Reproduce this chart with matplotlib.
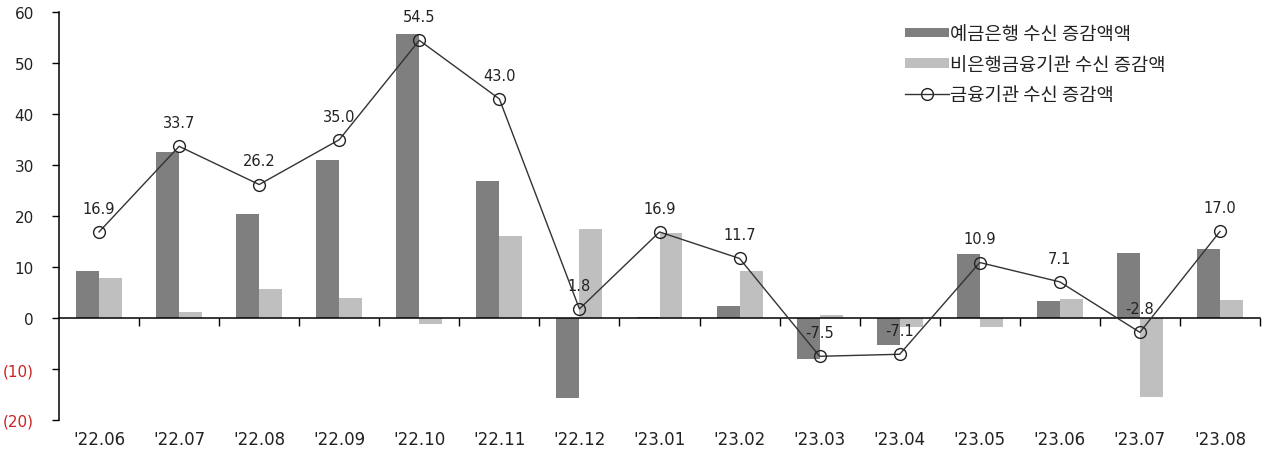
import numpy as np
import matplotlib
matplotlib.use("Agg")
import matplotlib.pyplot as plt
from matplotlib import transforms

# Monthly changes in deposits (trillion won)
months = ["'22.06", "'22.07", "'22.08", "'22.09", "'22.10", "'22.11", "'22.12",
          "'23.01", "'23.02", "'23.03", "'23.04", "'23.05", "'23.06", "'23.07", "'23.08"]
bank = [9.2, 32.5, 20.5, 31.1, 55.7, 26.9, -15.6, 0.3, 2.3, -8.1, -5.2, 12.6, 3.3, 12.7, 13.5]
nonbank = [7.8, 1.2, 5.8, 3.9, -1.2, 16.1, 17.4, 16.7, 9.3, 0.7, -1.8, -1.7, 3.8, -15.5, 3.5]
total = [16.9, 33.7, 26.2, 35.0, 54.5, 43.0, 1.8, 16.9, 11.7, -7.5, -7.1, 10.9, 7.1, -2.8, 17.0]

yticks = [-20, -10, 0, 10, 20, 30, 40, 50, 60]
ytick_labels = ["(20)", "(10)", "0", "10", "20", "30", "40", "50", "60"]

label_bank = "예금은행 수신 증감액액"
label_nonbank = "비은행금융기관 수신 증감액"
label_total = "금융기관 수신 증감액"

W, H = 1267, 460
fig = plt.figure(figsize=(W / 100, H / 100), dpi=100)
ax = fig.add_axes([59 / W, 39 / H, 1201 / W, 407.7 / H])

x = np.arange(len(months))
bw = 0.287
b1 = ax.bar(x - bw / 2, bank, width=bw, color="#7f7f7f", label=label_bank, zorder=2)
b2 = ax.bar(x + bw / 2, nonbank, width=bw, color="#bfbfbf", label=label_nonbank, zorder=2)
ln, = ax.plot(x, total, color="#333333", lw=1.0, marker="o", ms=8.5,
              mfc="none", mec="#222222", mew=1.0, label=label_total, zorder=4)

for xi, v in zip(x, total):
    ax.annotate(f"{v:.1f}", (xi, v), xytext=(0, 17), textcoords="offset points",
                ha="center", va="center", fontsize=10.5, color="#222222",
                family="DejaVu Sans", zorder=5)

ax.set_xlim(-0.5, len(months) - 0.5)
ax.set_ylim(-20, 60)

for s in ("top", "right"):
    ax.spines[s].set_visible(False)
ax.spines["bottom"].set_position(("data", 0))
ax.spines["bottom"].set_zorder(3)
ax.spines["bottom"].set_linewidth(1.1)
ax.spines["left"].set_linewidth(1.1)

ax.set_xticks(np.arange(0.5, len(months), 1.0))
ax.set_xticklabels([])
ax.tick_params(axis="x", direction="out", length=6, width=1.0, color="black")

ax.set_yticks(yticks)
ax.set_yticklabels(ytick_labels, fontsize=11, family="DejaVu Sans")
ax.tick_params(axis="y", direction="out", length=5, width=1.0, pad=13)
for t, v in zip(ax.get_yticklabels(), yticks):
    t.set_color("#cc2222" if v < 0 else "#222222")

trans = transforms.blended_transform_factory(ax.transData, ax.transAxes)
for xi, m in zip(x, months):
    ax.text(xi, -0.047, m, transform=trans, ha="center", va="center",
            fontsize=12, color="#222222", family="DejaVu Sans")

leg = ax.legend(handles=[b1, b2, ln], loc="upper left",
                bbox_to_anchor=(896 / W, 1 - 15 / H), bbox_transform=fig.transFigure,
                frameon=False, borderpad=0, handlelength=2.3, handleheight=0.4,
                handletextpad=0.1, labelspacing=0.5,
                prop={"family": ["Noto Sans CJK KR", "DejaVu Sans"], "size": 13.5})
for t in leg.get_texts():
    t.set_color("#222222")

fig.savefig("out.png", dpi=100)
